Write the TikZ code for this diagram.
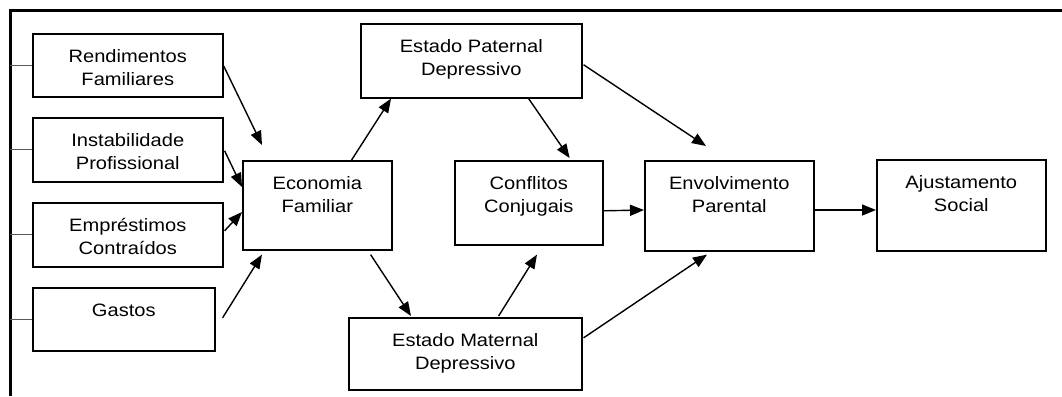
\documentclass[tikz,border=0pt]{standalone}
\usepackage{fontspec}
\setmainfont{Liberation Sans}[FakeStretch=1.12]
\usetikzlibrary{arrows.meta,calc}
\newcommand\bxt[3]{\parbox[t][#2bp][t]{#1bp}{\centering\rule{0pt}{28.7bp}#3}}
\begin{document}
\begin{tikzpicture}[x=1bp,y=-1bp,
  box/.style={draw, line width=1.6bp, inner sep=0pt, anchor=north west,
    font=\fontsize{18}{23.5}\selectfont},
  arr/.style={line width=1.4bp, -{Triangle[length=14bp,width=11bp]}},
  stub/.style={draw=black!65, line width=1bp},
  frame/.style={line width=3bp, line join=miter}]
\useasboundingbox (0,0) rectangle (1062,396);
% frame
\coordinate (fb) at (10,396);
\coordinate (fc) at (10,10);
\coordinate (fr) at (1062,10);
\draw[frame] (fb) -- (fc) -- (fr);
% boxes
\node[box] (rend) at (32,33)  {\bxt{190}{63}{Rendimentos\\Familiares}};
\node[box] (inst) at (32,117) {\bxt{190}{64}{Instabilidade\\Profissional}};
\node[box] (emp)  at (32,202) {\bxt{190}{64}{Empréstimos\\Contraídos}};
\node[box] (gast) at (32,287) {\bxt{182}{63}{Gastos}};
\node[box] (econ) at (242,160) {\bxt{149}{89}{Economia\\Familiar}};
\node[box] (pat)  at (360,23)  {\bxt{221}{74}{Estado Paternal\\Depressivo}};
\node[box] (conf) at (454,160) {\bxt{148}{84}{Conflitos\\Conjugais}};
\node[box] (env)  at (644,160) {\bxt{169}{90}{Envolvimento\\Parental}};
\node[box] (ajus) at (876,159) {\bxt{169}{91}{Ajustamento\\Social}};
\node[box] (mat)  at (348,317) {\bxt{233}{72}{Estado Maternal\\Depressivo}};
% stubs
\draw[stub] (rend.west -| fc) -- (rend.west);
\draw[stub] (inst.west -| fc) -- (inst.west);
\draw[stub] (emp.west -| fc) -- (emp.west);
\draw[stub] (gast.west -| fc) -- (gast.west);
% arrows
\draw[arr] ([shift={(0,0.5)}]rend.east) -- ([shift={(20,-15)}]econ.north west);
\draw[arr] ([shift={(1,1)}]inst.east) -- ([shift={(0,27)}]econ.north west);
\draw[arr] ([shift={(1,-4)}]emp.east) -- ([shift={(0,52)}]econ.north west);
\draw[arr] ([shift={(7,-1.5)}]gast.east) -- ([shift={(20,4)}]econ.south west);
\draw[arr] ([shift={(-41,0)}]econ.north east) -- ([shift={(31,0)}]pat.south west);
\draw[arr] ([shift={(-22,4)}]econ.south east) -- ([shift={(63,-1)}]mat.north west);
\draw[arr] ([shift={(-54,0)}]pat.south east) -- ([shift={(-34,-2)}]conf.north east);
\draw[arr] ([shift={(1,4)}]pat.east) -- ([shift={(62,-14)}]env.north west);
\draw[arr] ([shift={(-84,-1)}]mat.north east) -- ([shift={(83,9)}]conf.south west);
\draw[arr] ([shift={(1,-16)}]mat.east) -- ([shift={(63,3)}]env.south west);
\draw[arr] ([shift={(0,8)}]conf.east) -- ([shift={(0,50)}]env.north west);
\draw[arr] ([shift={(0,50)}]env.north east) -- ([shift={(0,51)}]ajus.north west);
\end{tikzpicture}
\end{document}
